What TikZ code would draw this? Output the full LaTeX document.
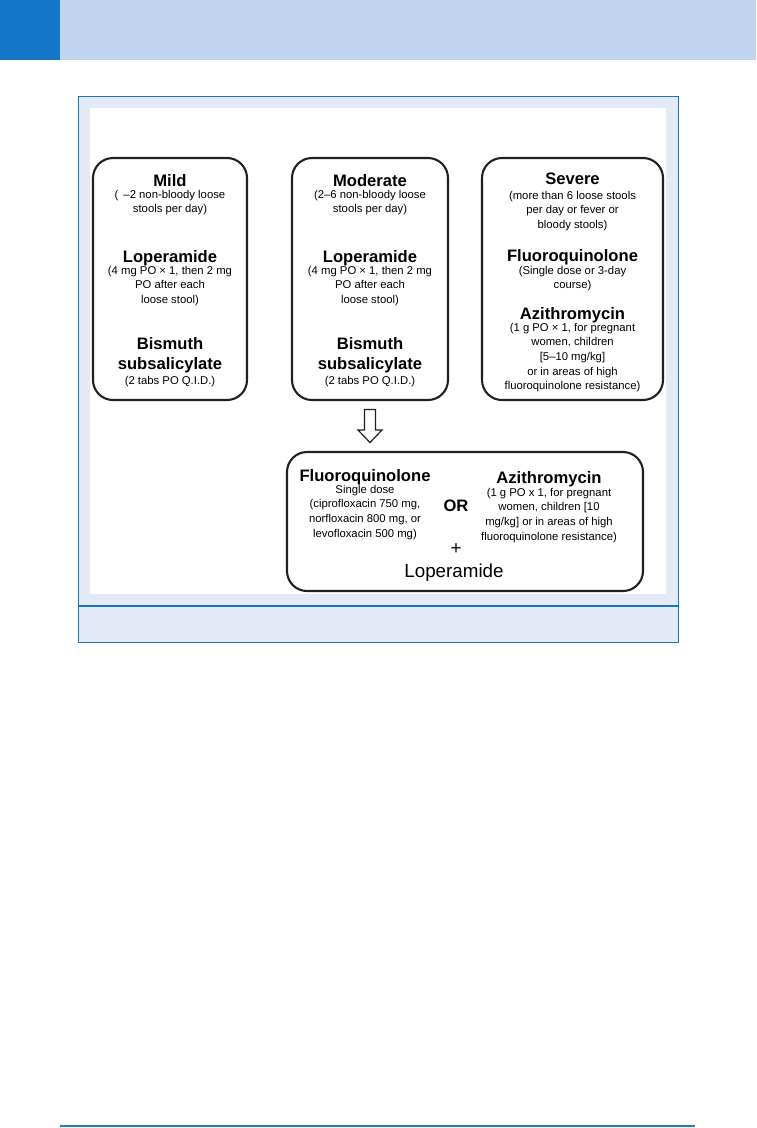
\documentclass[tikz,border=0pt]{standalone}
\usepackage{fontspec}
\setmainfont{Liberation Sans}
\usetikzlibrary{calc}
\definecolor{bandblue}{RGB}{20,118,200}
\definecolor{bandlight}{RGB}{192,211,239}
\definecolor{framefill}{RGB}{227,234,246}
\definecolor{boxline}{RGB}{35,31,32}
\definecolor{rulecol}{RGB}{40,120,190}

\begin{document}
\begin{tikzpicture}[
  x=1pt, y=-1pt,
  stage/.style={draw=boxline, line width=2.1pt, rounded corners=20pt, inner sep=0pt},
  head/.style={font=\fontsize{16.6}{20}\selectfont\bfseries, inner sep=0pt, align=center, anchor=north},
  note/.style={font=\fontsize{11.3}{14.6}\selectfont, inner sep=0pt, align=center, anchor=north},
  hollow/.style={draw=boxline, line width=1.2pt, fill=white, line join=miter}
]
  \useasboundingbox (0,0) rectangle (756,1128);

  % Page band and frame
  \fill[bandlight] (0,0) rectangle (756,60);
  \fill[bandblue] (0,0) rectangle (60,60);
  \draw[bandblue, line width=1.5pt, fill=framefill] (78.5,96.5) rectangle (678.5,642.5);
  \fill[white] (90,108) rectangle (666,594);
  \draw[bandblue, line width=1.5pt] (78.5,606) -- (678.5,606);
  \draw[rulecol, line width=1.2pt] (60,1126) -- (695,1126);

  % Severity boxes
  \node[stage, minimum width=154, minimum height=242] (mild)   at (170,279)   {};
  \node[stage, minimum width=156, minimum height=242] (moder)  at (370,279)   {};
  \node[stage, minimum width=181, minimum height=242] (severe) at (572.5,279) {};
  \node[stage, minimum width=356, minimum height=139] (treat)  at (465,521.5) {};

  % Mild column
  \node[head] (mildT) at (170,174) {Mild};
  \node[note] (mildN) at (170,190) {(\hspace{5pt}–2 non-bloody loose\\stools per day)};
  \node[head] (mildL) at (170,250) {Loperamide};
  \node[note] (mildD) at (170,266) {(4 mg PO × 1, then 2 mg\\PO after each\\loose stool)};
  \node[head] (mildB) at (170,337) {Bismuth\\subsalicylate};
  \node[note] (mildS) at (170,376) {(2 tabs PO Q.I.D.)};

  % Moderate column
  \node[head] (modT) at (370,174) {Moderate};
  \node[note] (modN) at (370,190) {(2–6 non-bloody loose\\stools per day)};
  \node[head] (modL) at (370,250) {Loperamide};
  \node[note] (modD) at (370,266) {(4 mg PO × 1, then 2 mg\\PO after each\\loose stool)};
  \node[head] (modB) at (370,337) {Bismuth\\subsalicylate};
  \node[note] (modS) at (370,376) {(2 tabs PO Q.I.D.)};

  % Severe column
  \node[head] (sevT) at (572.5,173) {Severe};
  \node[note] (sevN) at (572.5,191) {(more than 6 loose stools\\per day or fever or\\bloody stools)};
  \node[head] (sevF) at (572.5,249) {Fluoroquinolone};
  \node[note] (sevD) at (572.5,266) {(Single dose or 3-day\\course)};
  \node[head] (sevA) at (572.5,307) {Azithromycin};
  \node[note] (sevS) at (572.5,323) {(1 g PO × 1, for pregnant\\women, children\\{[}5–10 mg/kg{]}\\or in areas of high\\fluoroquinolone resistance)};

  % Hollow arrow
  \coordinate (arr) at ($(moder.south)!0.5!(moder.south |- treat.north)$);
  \draw[hollow] ($(arr)+(-5.5,-16.5)$) -- ($(arr)+(5.5,-16.5)$) -- ($(arr)+(5.5,4)$)
    -- ($(arr)+(12,4)$) -- ($(arr)+(0,16.5)$) -- ($(arr)+(-12,4)$) -- ($(arr)+(-5.5,4)$) -- cycle;

  % Treatment box
  \node[head] (trF) at (365,469) {Fluoroquinolone};
  \node[note] (trFN) at (365,485) {Single dose\\(ciprofloxacin 750 mg,\\norfloxacin 800 mg, or\\levofloxacin 500 mg)};
  \node[head, anchor=base] (trOr) at (456,511) {OR};
  \node[head] (trA) at (549,471) {Azithromycin};
  \node[note] (trAN) at (549,488) {(1 g PO x 1, for pregnant\\women, children {[}10\\mg/kg{]} or in areas of high\\fluoroquinolone resistance)};
  \node[inner sep=0pt, anchor=base, font=\fontsize{18.8}{22}\selectfont] (trPlus) at (456,554) {+};
  \node[inner sep=0pt, anchor=base, font=\fontsize{18.8}{22}\selectfont] (trLop) at (454,577) {Loperamide};
\end{tikzpicture}
\end{document}
